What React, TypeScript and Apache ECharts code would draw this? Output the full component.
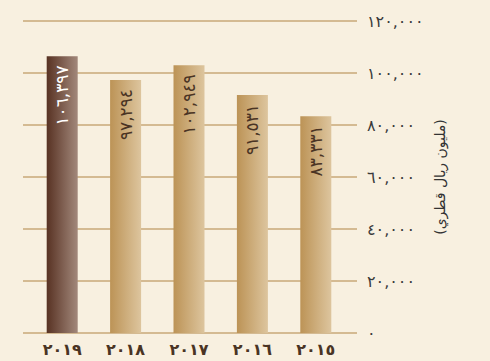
import React, { useEffect, useRef } from "react";
import * as echarts from "echarts";

const years = ["2019", "2018", "2017", "2016", "2015"];
const values = [106397, 97294, 102949, 91531, 83331];
const yTicks = { min: 0, max: 120000, interval: 20000 };
const axisTitle = "(مليون ريال قطري)";
const highlightIndex = 0;

const toArabic = (s: string) =>
  s.replace(/[0-9]/g, (d) => "٠١٢٣٤٥٦٧٨٩"[Number(d)]);
const fmt = (n: number) => toArabic(n.toLocaleString("en-US"));

const FONT = "'DejaVu Sans', 'Noto Sans', sans-serif";

export default function App() {
  const ref = useRef<HTMLDivElement>(null);
  useEffect(() => {
    if (!ref.current) return;
    const chart = echarts.init(ref.current, undefined, { renderer: "svg" });
    const grid = "#c9a878";
    const normalGrad = new echarts.graphic.LinearGradient(0, 0, 1, 0, [
      { offset: 0, color: "#bc9356" },
      { offset: 1, color: "#ddc59e" },
    ]);
    const darkGrad = new echarts.graphic.LinearGradient(0, 0, 1, 0, [
      { offset: 0, color: "#583223" },
      { offset: 1, color: "#a2887b" },
    ]);
    chart.setOption({
      animation: false,
      backgroundColor: "#f8f0e0",
      textStyle: { fontFamily: FONT },
      grid: [
        { left: 23, right: 133, top: 21, bottom: 28 },
        { left: 30.5, right: 142.5, top: 21, bottom: 28 },
      ],
      xAxis: [
        { type: "value", gridIndex: 0, show: false, min: 0, max: 1 },
        {
          type: "category",
          gridIndex: 1,
          data: years,
          axisLine: { show: false },
          axisTick: { show: false },
          axisLabel: {
            formatter: (v: string) => toArabic(v),
            color: "#4a3424",
            fontSize: 16,
            fontWeight: "bold",
            fontFamily: FONT,
            margin: 8,
          },
        },
      ],
      yAxis: [
        {
          type: "value",
          gridIndex: 0,
          position: "right",
          min: yTicks.min,
          max: yTicks.max,
          interval: yTicks.interval,
          axisLine: { show: false },
          axisTick: { show: false },
          splitLine: { lineStyle: { color: grid, width: 1.5 } },
          axisLabel: {
            formatter: (v: number) => fmt(v),
            color: "#3a3a3a",
            fontSize: 16,
            fontFamily: FONT,
            margin: 10,
            align: "left",
          },
        },
        {
          type: "value",
          gridIndex: 1,
          min: yTicks.min,
          max: yTicks.max,
          show: false,
          splitLine: { show: false },
        },
      ],
      graphic: [
        {
          type: "text",
          x: 440,
          y: 177,
          rotation: Math.PI / 2,
          style: {
            text: axisTitle,
            fill: "#333333",
            font: `14px ${FONT}`,
            align: "center",
            verticalAlign: "middle",
          },
        },
      ],
      series: [
        {
          type: "bar",
          xAxisIndex: 1,
          yAxisIndex: 1,
          barWidth: 31,
          data: values.map((v, i) => ({
            value: v,
            itemStyle: { color: i === highlightIndex ? darkGrad : normalGrad },
            label: { color: i === highlightIndex ? "#ffffff" : "#4a3424" },
          })),
          label: {
            show: true,
            position: "insideTop",
            rotate: 90,
            align: "right",
            verticalAlign: "middle",
            distance: 9,
            fontSize: 17,
            fontFamily: FONT,
            formatter: (p: any) => fmt(p.value),
          },
        },
      ],
    });
    return () => chart.dispose();
  }, []);
  return (
    <div
      ref={ref}
      style={{ position: "absolute", left: 0, top: 0, width: 490, height: 361 }}
    />
  );
}
